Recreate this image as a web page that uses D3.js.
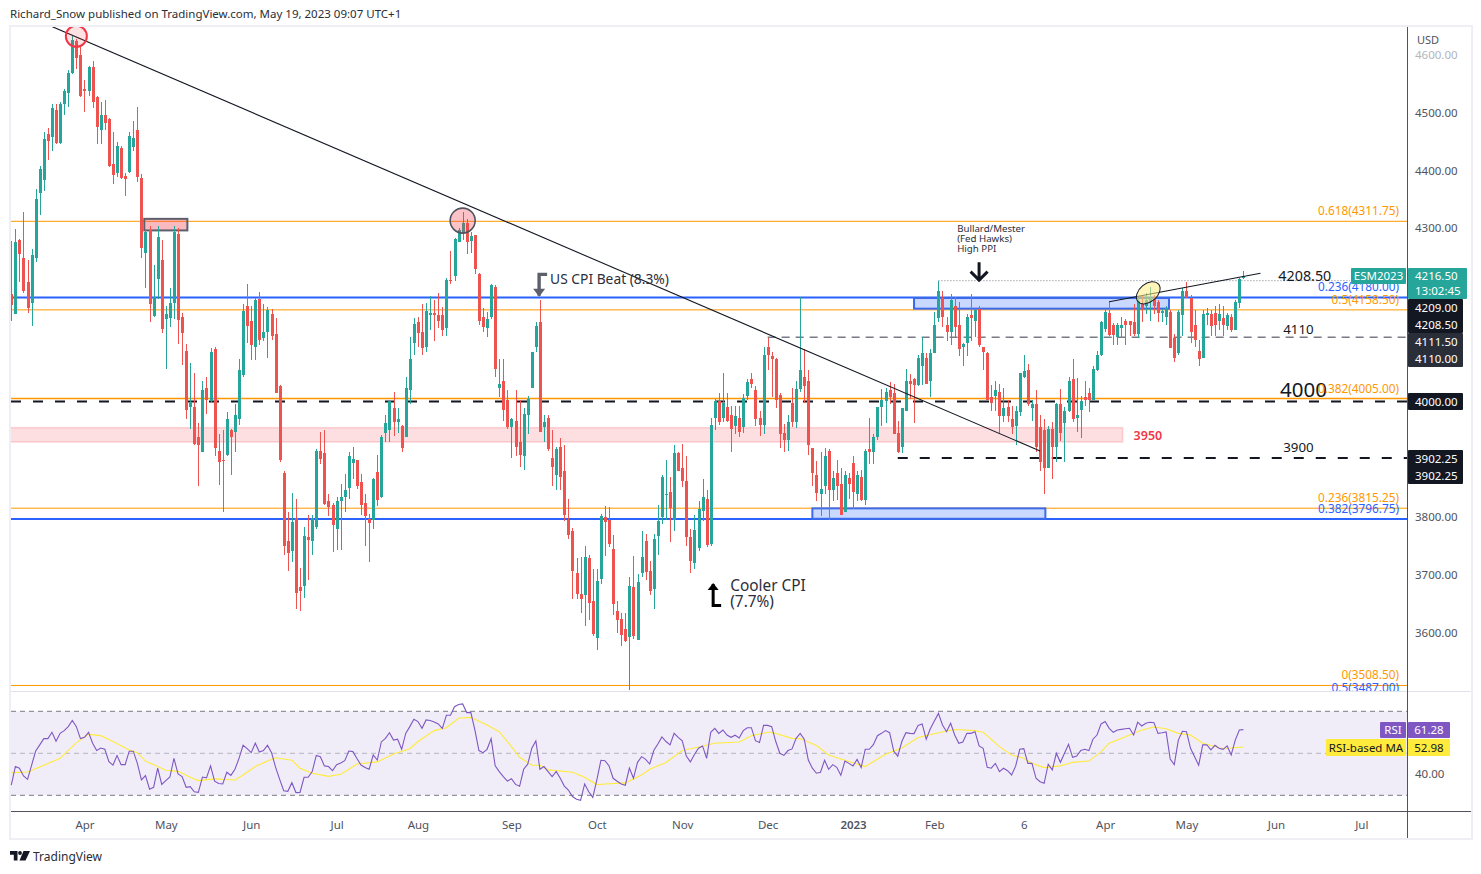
<!DOCTYPE html>
<html>
<head>
<meta charset="utf-8">
<script src="https://cdn.jsdelivr.net/npm/d3@7/dist/d3.min.js"></script>
<style>
  html, body { margin: 0; padding: 0; background: #fff; overflow: hidden; }
  svg { display: block; }
  text { font-family: "Noto Sans", sans-serif; }
</style>
</head>
<body>
<div id="chart"></div>
<script>
// ESM2023 daily, values
const opens = [
  4186,4152,4279,4248,4207,4170,4248,4360,4384,4462, 4457,4505,4447,4515,4534,4569,4623,4600,4541,4538,
  4578,4527,4470,4496,4489,4411,4396,4439,4390,4397, 4441,4469,4387,4257,4297,4148,4212,4245,4143,4144,
  4170,4290,4146,4087,3991,3990,3939,3913,4024,4000, 4090,3915,3899,3908,3951,3948,3970,4045,4165,4139,
  4095,4177,4109,4120,4151,4116,4026,3877,3759,3742, 3799,3679,3681,3766,3759,3783,3915,3910,3827,3821,
  3780,3827,3835,3851,3894,3899,3861,3825,3797,3795, 3878,3835,3945,3951,3988,3965,3958,3938,4019,4102,
  4137,4120,4095,4149,4153,4149,4149,4127,4210,4217, 4276,4291,4309,4277,4288,4220,4147,4127,4147,4198,
  4023,4035,4002,3955,3967,3929,3905,3977,4024,4094, 4137,3955,3972,3903,3872,3922,3879,3795,3776,3703,
  3667,3665,3729,3655,3591,3693,3800,3795,3745,3637, 3624,3606,3592,3679,3587,3703,3759,3707,3676,3767,
  3800,3838,3844,3795,3911,3884,3863,3766,3721,3747, 3811,3832,3754,3971,4000,3972,3991,3977,3958,3972,
  3956,4009,4038,4019,3972,3960,4094,4078,4073,4012, 3945,3934,3997,3964,4021,4043,4036,3920,3873,3840,
  3854,3915,3847,3877,3858,3809,3868,3894,3840,3870, 3830,3918,3912,3939,3990,4000,4019,4014,3945,3922,
  3984,4036,4038,4028,4061,4076,4036,4083,4144,4179, 4133,4121,4166,4132,4095,4102,4149,4139,4160,4095,
  4083,4007,4009,4016,3974,3991,3969,3957,3981,4043, 4054,3988,3995,3955,3951,3885,3953,3922,3995,3962,
  3984,4038,3971,3986,4007,4014,4003,4055,4080,4125, 4153,4133,4111,4127,4139,4139,4137,4116,4169,4166,
  4172,4177,4172,4153,4147,4154,4109,4083,4149,4192, 4179,4133,4087,4075,4149,4151,4153,4140,4144,4130,
  4147,4123,4170,4213
];
const highs = [
  4277,4299,4282,4328,4245,4264,4368,4408,4467,4474, 4515,4514,4518,4540,4573,4632,4628,4615,4557,4581,
  4590,4529,4519,4521,4491,4467,4449,4442,4395,4467, 4486,4510,4394,4297,4304,4236,4304,4280,4165,4196,
  4304,4300,4153,4099,4066,4050,3962,4036,4043,4092, 4095,3943,3950,3981,3953,3996,4073,4168,4203,4165,
  4179,4189,4168,4163,4160,4144,4029,3879,3808,3842, 3832,3712,3783,3804,3804,3918,3948,3950,3839,3825,
  3834,3858,3875,3913,3922,3899,3875,3840,3806,3868, 3908,3942,3977,4003,4016,3988,3960,4042,4111,4144,
  4147,4168,4170,4182,4175,4187,4163,4213,4260,4283, 4300,4328,4316,4293,4288,4222,4161,4154,4203,4201,
  4073,4073,4019,3971,4019,4002,3988,4010,4085,4137, 4175,3977,3977,3950,3922,3936,3925,3832,3781,3729,
  3731,3750,3734,3710,3710,3806,3819,3818,3769,3655, 3634,3634,3696,3733,3702,3776,3771,3724,3770,3821,
  3873,3898,3870,3924,3913,3926,3906,3780,3804,3828, 3866,3847,3972,4005,4015,4050,4015,3993,3993,3993,
  4013,4038,4049,4026,3984,4095,4109,4086,4075,4014, 3961,3976,4024,4036,4180,4090,4054,3920,3897,3912,
  3919,3917,3880,3899,3885,3880,3877,3905,3880,3882, 3918,3972,3943,3991,4021,4023,4033,4031,3967,3988,
  4057,4047,4040,4081,4111,4083,4090,4154,4208,4191, 4147,4186,4180,4172,4102,4151,4186,4160,4166,4095,
  4085,4028,4035,4030,4024,4003,3993,3993,4050,4081, 4064,4002,4019,3977,3969,3957,3965,3998,4021,3990,
  4043,4073,4040,4010,4035,4023,4061,4088,4140,4158, 4173,4135,4135,4146,4142,4140,4169,4179,4184,4187,
  4198,4184,4175,4160,4165,4158,4116,4158,4196,4206, 4184,4158,4106,4158,4161,4158,4165,4168,4165,4153,
  4151,4175,4213,4225
];
const lows = [
  4140,4151,4207,4188,4153,4131,4241,4322,4364,4417, 4434,4446,4446,4495,4510,4566,4576,4527,4501,4529,
  4508,4446,4446,4470,4406,4377,4389,4385,4356,4395, 4434,4380,4248,4196,4137,4147,4177,4119,4056,4129,
  4143,4099,4063,3969,3953,3924,3854,3913,3979,3999, 3905,3856,3808,3906,3872,3913,3960,4042,4102,4071,
  4071,4097,4104,4076,4106,4014,3896,3735,3707,3723, 3641,3638,3660,3691,3735,3780,3892,3821,3801,3740,
  3743,3743,3808,3832,3866,3849,3804,3750,3722,3780, 3819,3833,3929,3929,3941,3945,3913,3938,3995,4081,
  4094,4080,4085,4123,4104,4127,4113,4113,4204,4208, 4276,4279,4255,4257,4220,4132,4120,4111,4142,4042,
  4007,3967,3953,3903,3905,3886,3882,3943,4023,4085, 3947,3929,3915,3853,3846,3846,3793,3762,3658,3658,
  3634,3611,3622,3594,3570,3684,3733,3748,3631,3599, 3577,3584,3500,3589,3587,3696,3691,3665,3641,3734,
  3788,3795,3757,3776,3880,3852,3750,3703,3710,3741, 3793,3748,3750,3950,3960,3964,3965,3912,3943,3938,
  3945,4002,4024,3958,3941,3943,4054,4007,3988,3920, 3913,3915,3955,3954,4017,3998,3908,3854,3827,3802,
  3839,3794,3828,3830,3804,3808,3831,3814,3828,3827, 3820,3892,3891,3934,3957,3962,3996,3943,3911,3911,
  3983,4005,3962,4026,4028,4030,4007,4083,4137,4129, 4104,4097,4111,4078,4061,4078,4104,4111,4095,4055,
  4002,3983,3984,3946,3965,3965,3943,3924,3974,4041, 3993,3967,3912,3880,3839,3884,3865,3896,3932,3896,
  3981,3965,3948,3936,3993,3981,4002,4052,4079,4121, 4113,4097,4097,4111,4097,4114,4113,4109,4137,4151,
  4140,4151,4137,4137,4132,4092,4068,4080,4113,4179, 4102,4095,4062,4075,4132,4114,4113,4123,4113,4123,
  4120,4123,4161,4212
];
const closes = [
  4167,4276,4255,4192,4162,4253,4351,4403,4455,4451, 4507,4447,4514,4538,4569,4626,4595,4529,4538,4579,
  4519,4475,4496,4482,4408,4392,4442,4387,4385,4460, 4456,4389,4266,4293,4169,4181,4285,4125,4151,4170,
  4293,4141,4118,3986,3997,3927,3925,4019,4002,4085, 3920,3896,3898,3970,3938,3976,4055,4156,4130,4097,
  4175,4106,4120,4158,4113,4014,3898,3750,3738,3792, 3669,3672,3768,3761,3799,3915,3901,3823,3818,3787,
  3827,3834,3847,3905,3901,3854,3821,3802,3790,3865, 3830,3938,3962,4000,3964,3969,3920,4024,4073,4134,
  4118,4092,4156,4153,4149,4140,4123,4210,4208,4281, 4297,4309,4276,4286,4229,4139,4128,4142,4201,4057,
  4031,3986,3955,3969,3922,3908,3979,4005,4085,4130, 3948,3965,3917,3887,3917,3870,3804,3769,3707,3667,
  3658,3731,3651,3598,3689,3802,3792,3754,3650,3622, 3596,3585,3681,3594,3688,3731,3705,3672,3762,3793,
  3870,3840,3816,3910,3880,3863,3766,3724,3778,3814, 3835,3752,3960,4000,3964,3998,3967,3953,3974,3948,
  4006,4033,4031,3969,3960,4081,4080,4073,4003,3943, 3934,3965,3965,4021,4055,4027,3925,3877,3842,3849,
  3905,3847,3868,3853,3804,3872,3858,3844,3873,3830, 3915,3912,3939,3990,4003,4017,4007,3943,3913,3988,
  4036,4031,4029,4075,4083,4031,4083,4132,4191,4146, 4121,4175,4128,4090,4099,4147,4144,4158,4097,4085,
  4003,3998,4019,3974,3988,3974,3955,3984,4049,4052, 3995,3995,3921,3896,3885,3953,3922,3995,3945,3983,
  4035,3969,3977,4000,4003,4003,4057,4080,4137,4154, 4115,4115,4132,4132,4133,4133,4116,4174,4158,4175,
  4179,4166,4153,4156,4161,4092,4075,4154,4192,4179, 4120,4106,4073,4151,4153,4130,4132,4151,4133,4149,
  4123,4172,4212,4216.5
];
const rsiValues = [
  34.9,43.7,42.9,39.2,37.6,44.4,51.1,54.0,57.0,57.0, 60.0,55.7,59.5,60.8,62.7,65.6,62.7,57.0,57.6,60.0,
  54.8,51.3,52.5,51.9,46.0,44.4,48.9,44.6,44.6,51.0, 51.0,45.2,37.3,39.4,32.9,33.8,42.9,35.2,37.0,38.7,
  47.6,40.2,38.9,33.8,34.1,31.7,31.4,38.7,38.3,44.0, 36.7,35.6,35.4,41.0,39.5,42.4,47.6,53.8,52.2,50.3,
  54.8,50.6,51.3,53.8,50.3,43.3,37.6,32.2,31.9,36.0, 31.3,31.4,38.6,38.6,41.3,49.0,48.4,44.0,43.7,41.7,
  44.6,45.4,46.5,51.1,50.8,47.5,44.4,43.2,42.4,49.2, 46.8,55.4,57.1,59.8,56.3,56.7,51.9,59.5,62.7,66.2,
  65.1,61.9,65.9,65.6,64.9,64.0,61.9,68.1,68.1,72.2, 73.2,73.5,69.4,69.5,61.1,51.3,50.3,51.9,57.0,44.0,
  41.3,38.9,36.8,37.9,35.2,34.3,42.4,44.8,52.4,55.9, 42.4,43.7,41.3,38.9,41.4,38.1,34.4,32.5,29.4,28.1,
  27.6,35.4,31.7,29.0,37.3,46.7,46.5,44.0,38.1,36.7, 35.4,34.8,43.0,38.1,45.7,48.4,47.1,44.9,51.3,54.4,
  57.8,55.6,54.0,59.5,57.6,55.9,48.7,45.9,49.4,52.4, 53.5,47.6,60.0,61.9,59.5,61.1,58.7,57.6,58.6,57.3,
  60.8,62.2,62.2,56.0,55.1,63.3,63.3,62.7,55.6,50.0, 49.0,51.3,52.1,57.1,59.5,56.7,46.8,42.9,40.5,41.0,
  46.7,42.4,44.6,43.3,39.5,46.3,45.2,44.0,47.1,43.2, 51.9,51.9,54.1,58.4,59.5,60.8,59.8,51.1,48.6,55.6,
  59.8,59.5,59.4,63.3,64.0,56.7,61.7,65.4,69.0,63.5, 60.3,64.3,58.7,54.8,55.4,59.5,59.5,60.3,53.5,52.4,
  43.3,42.9,45.2,41.3,42.9,41.7,39.7,44.0,51.9,52.2, 45.2,45.2,38.1,36.5,35.7,44.8,42.1,50.0,45.7,50.0,
  54.3,48.1,48.7,51.3,51.9,51.3,56.7,58.7,64.0,65.1, 61.9,60.0,61.1,61.4,61.7,61.9,58.7,64.8,63.0,64.3,
  64.8,64.6,59.5,59.8,60.2,47.3,44.6,56.3,60.5,60.3, 52.4,48.4,44.3,54.0,54.1,51.6,53.8,52.4,51.9,53.5,
  49.2,56.3,61.1,61.28
];
// RSI-based MA, read at these bars only
const maBars = [0,4,7,12,16,19,22,25,29,31,33,36,38,41,44,46,50,55,57,60,63,65,69,71,74,78,81,83,85,90,94,98,100,104,107,110,113,117,120,
  123,125,128,130,132,138,141,144,146,151,155,157,161,165,169,173,179,182,186,187,192,194,198,201,205,210,215,219,223,228,232,237,239,243,
  246,249,251,254,258,261,265,268,270,274,278,281,284,287,290,293,298,303];
const maValues = [40.8,41.1,43.5,47.6,55.1,59.0,58.4,55.6,51.6,50.3,46.3,43.7,41.9,41.4,38.6,37.0,37.8,37.3,39.7,43.7,46.3,47.9,46.7,42.9,40.5,39.0,40.0,42.4,44.9,45.9,49.7,52.2,55.6,60.8,62.2,66.7,67.1,63.5,60.3,
  53.2,48.1,44.3,44.3,42.1,41.0,38.6,35.1,35.4,35.9,39.7,42.4,45.6,51.3,53.0,54.8,55.4,58.4,60.0,60.0,57.1,57.0,53.7,49.2,46.7,43.7,49.5,52.5,57.5,59.8,61.3,60.8,60.0,53.2,
  49.2,47.6,45.2,43.2,44.0,45.7,46.3,50.8,54.8,57.9,61.1,62.5,61.7,59.5,58.7,54.8,52.2,52.98];

const priceTicks = [4600,4500,4400,4300,4200,4100,4000,3900,3800,3700,3600];
const rsiTicks = [40];
const timeBars = [18,38,59,80,100,123,144,165,186,207,227,249,269,289,311,332];
const timeLabels = ['Apr','May','Jun','Jul','Aug','Sep','Oct','Nov','Dec','2023','Feb','6','Apr','May','Jun','Jul'];

const fibLabels = ['0.618(4311.75)','0.236(4180.00)','0.5(4158.50)','0.382(4005.00)','0.236(3815.25)','0.382(3796.75)','0(3508.50)','0.5(3487.00)'];
const fibPrices = [4311.75,4180,4158.5,4005,3815.25,3796.75,3508.5,3487];
const fibColors = ['#ff9800','#2962ff','#ff9800','#ff9800','#ff9800','#2962ff','#ff9800','#2962ff'];

const W = 1481, H = 874;
const paneLeft = 11, paneRight = 1407, paneTop = 27, priceBottom = 691, rsiBottom = 811, axisBottom = 838, frameRight = 1471;
const green = '#26a69a', red = '#ef5350', ink = '#131722', axisInk = '#50535e';

const x = d3.scaleLinear().domain([0, 303]).range([11.3, 1243.4]);
const y = d3.scaleLinear().domain([4300, 3600]).range([228.1, 632.6]);
const yRsi = d3.scaleLinear().domain([70, 30]).range([711.3, 795.3]);

const svg = d3.select('#chart').append('svg').attr('width', W).attr('height', H);
svg.append('rect').attr('width', W).attr('height', H).attr('fill', '#fff');

svg.append('text').attr('x', 10).attr('y', 18).attr('font-size', 11.5).attr('fill', '#2a2e39')
  .text('Richard_Snow published on TradingView.com, May 19, 2023 09:07 UTC+1');

// frame
svg.append('rect').attr('x', paneLeft - 1).attr('y', paneTop - 1).attr('width', frameRight - paneLeft + 2).attr('height', axisBottom - paneTop + 2)
  .attr('fill', 'none').attr('stroke', '#eeeef4').attr('stroke-width', 2);

const defs = svg.append('defs');
defs.append('clipPath').attr('id', 'pane').append('rect').attr('x', paneLeft).attr('y', paneTop).attr('width', paneRight - paneLeft).attr('height', priceBottom - paneTop);

const pane = svg.append('g').attr('clip-path', 'url(#pane)');

function hline(p, color, width, dash, x0) {
  pane.append('line').attr('x1', x0 === undefined ? paneLeft : x0).attr('x2', paneRight).attr('y1', y(p)).attr('y2', y(p))
    .attr('stroke', color).attr('stroke-width', width).attr('stroke-dasharray', dash || null);
}
function zone(b0, b1, p0, p1, fill, stroke, sw) {
  pane.append('rect').attr('x', x(b0)).attr('width', x(b1) - x(b0)).attr('y', y(p0)).attr('height', y(p1) - y(p0))
    .attr('fill', fill).attr('stroke', stroke).attr('stroke-width', sw);
}

// levels
hline(4311.75, '#ff9800', 1);
hline(4158.5, '#ff9800', 1);
hline(4005, '#ff9800', 1.5);
hline(3815.25, '#ff9800', 1);
hline(3508.5, '#ff9800', 1);
hline(4180, '#2962ff', 2);
hline(3796.75, '#2962ff', 2);
hline(4000, ink, 2, '10 12');
hline(3902.25, ink, 2, '10 12', x(218));
hline(4111, '#787b86', 1.5, '8 6', x(186));
pane.append('line').attr('x1', x(228)).attr('x2', 1350).attr('y1', y(4209)).attr('y2', y(4209))
  .attr('stroke', '#787b86').attr('stroke-width', 1).attr('stroke-dasharray', '1 2');

// zones below the candles
zone(-1, 273.3, 3954.6, 3929.9, 'rgba(242,54,69,0.16)', 'rgba(242,54,69,0.2)', 1.5);
zone(222, 284.7, 4179, 4160.6, 'rgba(41,98,255,0.25)', '#3d6ae8', 2);
zone(197, 254.3, 3815, 3797, 'rgba(41,98,255,0.25)', '#3d6ae8', 2);
zone(32.7, 43.3, 4316, 4296, 'rgba(242,54,69,0.35)', '#5d606b', 2);

// candles
const bars = d3.range(opens.length);
const candles = pane.append('g').attr('shape-rendering', 'crispEdges');
candles.selectAll('rect.wick').data(bars).join('rect').attr('class', 'wick')
  .attr('x', i => Math.round(x(i))).attr('width', 1)
  .attr('y', i => y(highs[i])).attr('height', i => y(lows[i]) - y(highs[i]))
  .attr('fill', i => closes[i] >= opens[i] ? green : red);
candles.selectAll('rect.body').data(bars).join('rect').attr('class', 'body')
  .attr('x', i => Math.round(x(i)) - 1).attr('width', 3)
  .attr('y', i => y(Math.max(opens[i], closes[i])))
  .attr('height', i => Math.max(1, Math.abs(y(opens[i]) - y(closes[i]))))
  .attr('fill', i => closes[i] >= opens[i] ? green : red);

// drawings on top
function trend(b0, p0, b1, p1) {
  pane.append('line').attr('x1', x(b0)).attr('y1', y(p0)).attr('x2', x(b1)).attr('y2', y(p1))
    .attr('stroke', ink).attr('stroke-width', 1.1);
}
trend(10.1, 4648.5, 253, 3914.3);
trend(270, 4172.6, 307.2, 4221.8);

pane.append('circle').attr('cx', x(16)).attr('cy', y(4632)).attr('r', 10.5)
  .attr('fill', 'rgba(242,54,69,0.15)').attr('stroke', '#f23645').attr('stroke-width', 2);
pane.append('circle').attr('cx', x(111)).attr('cy', y(4313)).attr('r', 12.5)
  .attr('fill', 'rgba(242,54,69,0.3)').attr('stroke', '#50535e').attr('stroke-width', 1.6);
pane.append('ellipse').attr('cx', 0).attr('cy', 0).attr('rx', 13.5).attr('ry', 9)
  .attr('transform', `translate(${x(279.6)},${y(4188)}) rotate(-40)`)
  .attr('fill', 'rgba(255,236,130,0.55)').attr('stroke', ink).attr('stroke-width', 1);

// arrows, anchored on the bar and price they point at
function arrowDown(b, p0, p1, color, sw, foot) {
  const ax = x(b), a0 = y(p0), a1 = y(p1);
  pane.append('path').attr('fill', 'none').attr('stroke', color).attr('stroke-width', sw)
    .attr('d', `M${ax + foot},${a0}H${ax}V${a1 - 1}`);
  pane.append('path').attr('fill', color).attr('d', `M${ax - 6},${a1 - 8}H${ax + 6}L${ax},${a1}Z`);
}
arrowDown(129.8, 4220, 4181, '#5d606b', 3.4, 8);
// 7.7% arrow points up
{
  const ax = x(172.6), a0 = y(3647), a1 = y(3686);
  pane.append('path').attr('fill', 'none').attr('stroke', '#000').attr('stroke-width', 3)
    .attr('d', `M${ax + 8},${a0}H${ax}V${a1 + 1}`);
  pane.append('path').attr('fill', '#000').attr('d', `M${ax - 5.5},${a1 + 7}H${ax + 5.5}L${ax},${a1}Z`);
}
// fed hawks arrow
{
  const ax = x(238), a0 = y(4241), a1 = y(4210);
  pane.append('path').attr('fill', 'none').attr('stroke', '#131722').attr('stroke-width', 3)
    .attr('d', `M${ax},${a0}V${a1}M${ax - 8.5},${a1 - 8.5}L${ax},${a1}L${ax + 8.5},${a1 - 8.5}`);
}

// notes
function note(str, px, p, size, color, weight) {
  pane.append('text').attr('x', x(px)).attr('y', y(p)).attr('font-size', size).attr('fill', color || ink)
    .attr('font-weight', weight || null).text(str);
}
note('US CPI Beat (8.3%)', 132.5, 4203, 13.8, '#2a2e39');
note('Cooler CPI', 176.8, 3672, 15.4, '#2a2e39');
note('(7.7%)', 176.8, 3644, 15.4, '#2a2e39');
note('Bullard/Mester', 232.6, 4293, 9.7, '#2a2e39');
note('(Fed Hawks)', 232.6, 4276, 9.7, '#2a2e39');
note('High PPI', 232.6, 4259, 9.7, '#2a2e39');
note('4208.50', 311.6, 4208.5, 14.3);
note('4110', 312.8, 4116.7, 13.3);
note('4000', 312, 4008, 20.5);
note('3950', 276, 3933, 12.5, '#f23645', 600);
note('3900', 312.8, 3912.6, 13.3);

pane.selectAll('text.fib').data(fibLabels).join('text').attr('class', 'fib')
  .attr('x', 1399).attr('y', (d, i) => y(fibPrices[i]) - 6).attr('text-anchor', 'end')
  .attr('font-size', 11.8).attr('fill', (d, i) => fibColors[i]).text(d => d);

// RSI pane
const rsiPane = svg.append('g');
rsiPane.append('rect').attr('x', paneLeft).attr('width', paneRight - paneLeft).attr('y', yRsi(70)).attr('height', yRsi(30) - yRsi(70))
  .attr('fill', 'rgba(126,87,194,0.11)');
rsiPane.selectAll('line.band').data([70, 50, 30]).join('line').attr('class', 'band')
  .attr('x1', paneLeft).attr('x2', paneRight).attr('y1', d => yRsi(d)).attr('y2', d => yRsi(d))
  .attr('stroke', d => d === 50 ? '#b2b5be' : '#787b86').attr('stroke-dasharray', '5 4');
rsiPane.append('path').datum(maValues).attr('fill', 'none').attr('stroke', '#ffeb3b').attr('stroke-width', 1.1)
  .attr('d', d3.line().x((d, i) => x(maBars[i])).y(d => yRsi(d)));
rsiPane.append('path').datum(rsiValues).attr('fill', 'none').attr('stroke', '#7e57c2').attr('stroke-width', 1.1)
  .attr('d', d3.line().x((d, i) => x(i)).y(d => yRsi(d)));

// separators
svg.append('line').attr('x1', paneLeft).attr('x2', frameRight).attr('y1', 691.5).attr('y2', 691.5).attr('stroke', '#e0e3eb');
svg.append('line').attr('x1', paneLeft).attr('x2', frameRight).attr('y1', rsiBottom + 0.5).attr('y2', rsiBottom + 0.5).attr('stroke', axisInk).attr('stroke-width', 1);
svg.append('line').attr('x1', paneRight + 0.5).attr('x2', paneRight + 0.5).attr('y1', paneTop).attr('y2', axisBottom).attr('stroke', axisInk).attr('stroke-width', 1);

// axes
const priceAxis = svg.append('g').attr('transform', `translate(${paneRight},0)`)
  .call(d3.axisRight(y).tickValues(priceTicks).tickSize(0).tickPadding(8).tickFormat(d3.format('.2f')));
const rsiAxis = svg.append('g').attr('transform', `translate(${paneRight},0)`)
  .call(d3.axisRight(yRsi).tickValues(rsiTicks).tickSize(0).tickPadding(8).tickFormat(d3.format('.2f')));
const timeAxis = svg.append('g').attr('transform', `translate(0,${rsiBottom})`)
  .call(d3.axisBottom(x).tickValues(timeBars).tickSize(0).tickPadding(9.5).tickFormat((d, i) => timeLabels[i]));
[priceAxis, rsiAxis, timeAxis].forEach(a => {
  a.select('.domain').remove();
  a.selectAll('text').attr('font-family', '"Noto Sans", sans-serif').attr('font-size', 11.5).attr('fill', '#50535e');
});
timeAxis.selectAll('text').filter(d => d === 207).attr('font-weight', 600);
priceAxis.selectAll('text').filter(d => d === 4600).attr('fill', '#b2b5be');
svg.append('text').attr('x', 1417).attr('y', 44).attr('font-size', 11).attr('fill', '#50535e').text('USD');

// price tags
function tag(x0, w, y0, h, fill, rows, color, anchor) {
  svg.append('rect').attr('x', x0).attr('y', y0).attr('width', w).attr('height', h).attr('fill', fill).attr('rx', 1);
  rows.forEach((r, i) => {
    svg.append('text').attr('x', anchor === 'middle' ? x0 + w / 2 : x0 + 7)
      .attr('y', y0 + (i + 0.5) * h / rows.length + 4).attr('text-anchor', anchor || 'start')
      .attr('font-size', 11.5).attr('fill', color).text(r);
  });
}
tag(1351, 55, 268, 16, green, ['ESM2023'], '#fff', 'middle');
tag(1408, 59, 268, 31, green, ['4216.50', '13:02:45'], '#fff');
tag(1408, 55, 299, 34, '#131722', ['4209.00', '4208.50'], '#fff');
tag(1408, 55, 333, 34, '#2a2e39', ['4111.50', '4110.00'], '#fff');
tag(1408, 55, 393, 17, '#131722', ['4000.00'], '#fff');
tag(1408, 55, 450, 34, '#131722', ['3902.25', '3902.25'], '#fff');
tag(1380, 26, 722, 16, '#7e57c2', ['RSI'], '#fff', 'middle');
tag(1408, 42, 722, 16, '#7e57c2', ['61.28'], '#fff', 'middle');
tag(1326, 80, 739, 17, '#ffeb3b', ['RSI-based MA'], ink, 'middle');
tag(1408, 42, 739, 17, '#ffeb3b', ['52.98'], ink, 'middle');

// footer logo
const logo = svg.append('g').attr('transform', 'translate(10,851)').attr('fill', '#131722');
logo.append('path').attr('d', 'M0,0H7.5V9.5H3.8V3.8H0Z');
logo.append('circle').attr('cx', 10).attr('cy', 2).attr('r', 1.9);
logo.append('path').attr('d', 'M13.5,0H20L15.5,9.5H9.5Z');
svg.append('text').attr('x', 33).attr('y', 860.5).attr('font-size', 12).attr('fill', '#2a2e39').text('TradingView');
</script>
</body>
</html>
